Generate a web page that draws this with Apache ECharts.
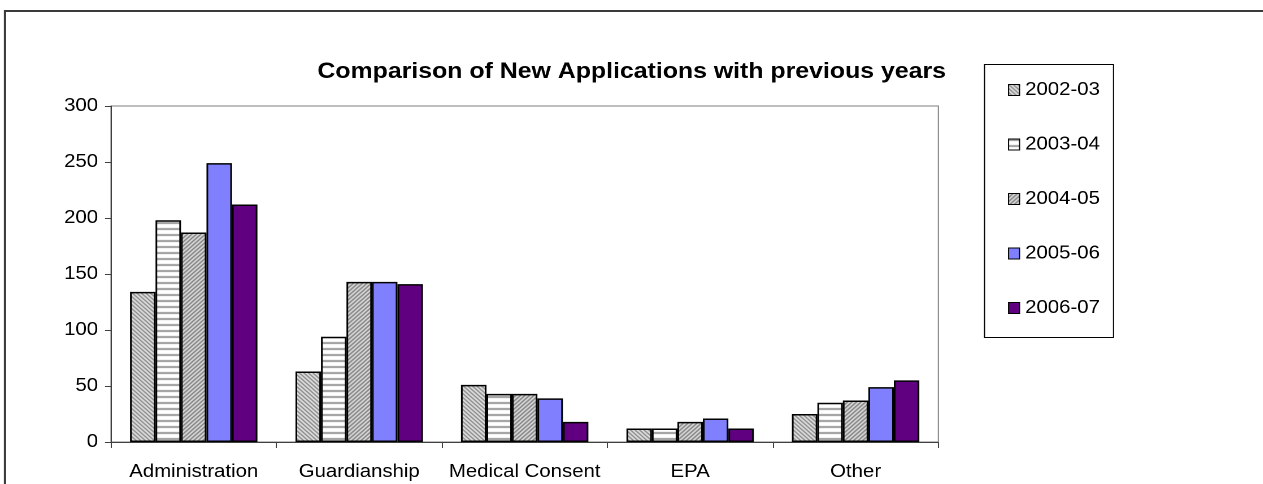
<!DOCTYPE html>
<html>
<head>
<meta charset="utf-8">
<script src="https://cdn.jsdelivr.net/npm/echarts@6/dist/echarts.min.js"></script>
<style>
  html, body { margin: 0; padding: 0; background: #fff; overflow: hidden; }
  #wrap { width: 1263px; height: 484px; overflow: hidden; }
  /* the chart is laid out narrower and widened horizontally, giving the wide lettering */
  #chart { height: 484px; transform-origin: 0 0; }
</style>
</head>
<body>
<div id="wrap"><div id="chart"></div></div>
<script>
// Categories, series and axis ticks
const categories = ['Administration', 'Guardianship', 'Medical Consent', 'EPA', 'Other'];
const seriesNames = ['2002-03', '2003-04', '2004-05', '2005-06', '2006-07'];
const values2002 = [134, 63, 51, 12, 25];
const values2003 = [198, 94, 43, 12, 35];
const values2004 = [187, 143, 43, 18, 37];
const values2005 = [249, 143, 39, 21, 49];
const values2006 = [212, 141, 18, 12, 55];
const yTicks = [0, 50, 100, 150, 200, 250, 300];

const FONT = 'Liberation Sans, Arial, Helvetica, sans-serif';

// horizontal widening factor and the resulting layout width
const SX = 1.13;
const PAGE_W = 1263;
const W = PAGE_W / SX;
const px = v => v / SX;   // page x -> layout x

const el = document.getElementById('chart');
el.style.width = W + 'px';
el.style.transform = 'scaleX(' + SX + ')';

// Small repeating tiles used as hatched fills
function makeTile(w, h, draw) {
  const c = document.createElement('canvas');
  c.width = w; c.height = h;
  const ctx = c.getContext('2d');
  ctx.fillStyle = '#ffffff';
  ctx.fillRect(0, 0, w, h);
  draw(ctx);
  return { image: c, repeat: 'repeat' };
}
// downward diagonal, fine grain
const hatchDown = makeTile(4, 4, ctx => {
  ctx.fillStyle = '#c4c4c4';
  ctx.fillRect(0, 0, 4, 4);
  ctx.fillStyle = '#6a6a6a';
  for (let i = 0; i < 4; i++) ctx.fillRect(i, i, 1, 1);
  ctx.fillStyle = '#f4f4f4';
  for (let i = 0; i < 4; i++) ctx.fillRect((i + 2) % 4, i, 1, 1);
});
// horizontal lines
const hatchHoriz = makeTile(6, 6, ctx => {
  ctx.fillStyle = '#9a9a9a';
  ctx.fillRect(0, 0, 6, 2);
});
// upward diagonal
const hatchUp = makeTile(4, 4, ctx => {
  ctx.fillStyle = '#b8b8b8';
  ctx.fillRect(0, 0, 4, 4);
  ctx.fillStyle = '#626262';
  for (let i = 0; i < 4; i++) ctx.fillRect(3 - i, i, 1, 1);
  ctx.fillStyle = '#f0f0f0';
  for (let i = 0; i < 4; i++) ctx.fillRect((5 - i) % 4, i, 1, 1);
});

const fills = [hatchDown, hatchHoriz, hatchUp, '#8080ff', '#600080'];
const seriesValues = [values2002, values2003, values2004, values2005, values2006];

const chart = echarts.init(el, null, { renderer: 'canvas', devicePixelRatio: 2 });

chart.setOption({
  animation: false,
  backgroundColor: '#ffffff',
  title: {
    text: 'Comparison of New Applications with previous years',
    left: 'center',
    top: 56,
    textStyle: { fontFamily: FONT, fontSize: 22, fontWeight: 'bold', color: '#000' }
  },
  graphic: [
    // outer frame: top and left edges
    {
      type: 'rect', silent: true, z: 100,
      shape: { x: px(5), y: 11, width: W + 40, height: 520 },
      style: { fill: null, stroke: '#3a3a3a', lineWidth: 2 }
    },
    // legend box
    {
      type: 'rect', silent: true, z: 1,
      shape: { x: px(984.5), y: 64.5, width: px(129), height: 273 },
      style: { fill: '#fff', stroke: '#000', lineWidth: 1 }
    }
  ],
  legend: {
    orient: 'vertical',
    left: px(1008),
    top: 80,
    itemWidth: px(11),
    itemHeight: 11,
    itemGap: 34.5,
    padding: 0,
    icon: 'rect',
    selectedMode: false,
    itemStyle: { borderColor: '#000', borderWidth: 1 },
    textStyle: { fontFamily: FONT, fontSize: 18, color: '#000', lineHeight: 20 },
    data: seriesNames
  },
  grid: {
    left: px(111), top: 106, right: px(PAGE_W - 938), bottom: 42,
    show: true, borderColor: '#808080', borderWidth: 1, backgroundColor: '#fff'
  },
  xAxis: {
    type: 'category',
    data: categories,
    axisLine: { lineStyle: { color: '#404040', width: 1 } },
    axisTick: { show: true, length: 6, alignWithLabel: false, lineStyle: { color: '#404040' } },
    axisLabel: { margin: 21, fontFamily: FONT, fontSize: 18, color: '#000', interval: 0 }
  },
  yAxis: {
    type: 'value',
    min: yTicks[0],
    max: yTicks[yTicks.length - 1],
    interval: yTicks[1] - yTicks[0],
    axisLine: { show: true, lineStyle: { color: '#404040', width: 1 } },
    axisTick: { show: true, length: px(6), lineStyle: { color: '#404040' } },
    splitLine: { show: false },
    axisLabel: { margin: px(13), fontFamily: FONT, fontSize: 18, color: '#000' }
  },
  series: seriesNames.map((name, i) => ({
    name: name,
    type: 'bar',
    data: seriesValues[i],
    barGap: '0%',
    barCategoryGap: '23%',
    itemStyle: { color: fills[i], borderColor: '#000', borderWidth: 1.5 }
  }))
});
</script>
</body>
</html>
